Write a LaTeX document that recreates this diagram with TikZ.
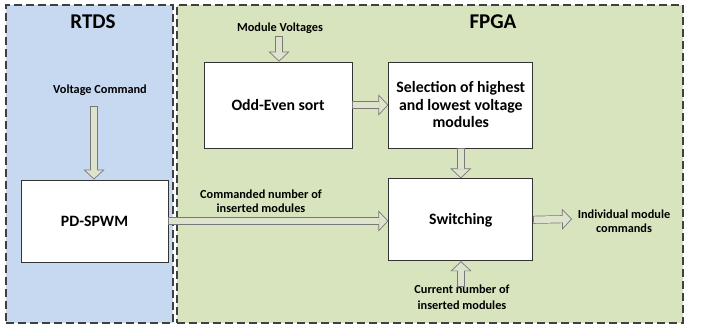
\documentclass[tikz,border=0pt]{standalone}
\usepackage{fontspec}
\setmainfont{Carlito}
\usetikzlibrary{arrows.meta, positioning}
\definecolor{rtdsblue}{RGB}{198,217,241}
\definecolor{fpgagreen}{RGB}{215,228,189}
\definecolor{arrfill}{RGB}{222,227,205}
\definecolor{arrline}{RGB}{120,120,120}
\definecolor{panelline}{RGB}{64,64,64}

\begin{document}
\begin{tikzpicture}[
  x=1pt, y=-1pt,
  panel/.style={rectangle, draw=panelline, line width=1.8pt, dash pattern=on 8pt off 4pt, inner sep=0pt},
  title/.style={font=\fontsize{21}{24}\selectfont\bfseries},
  box/.style={rectangle, draw=black!80, fill=white, line width=0.8pt, align=center, font=\fontsize{15.8}{17.5}\selectfont\bfseries, inner sep=0pt},
  lbl/.style={align=center, font=\fontsize{12.3}{13.5}\selectfont\bfseries, inner sep=0pt},
  fatarr/.style={draw=arrline, line width=8pt, -{Triangle[length=10pt, width=21pt, line width=0.7pt, fill=arrfill]},
    postaction={draw=arrfill, line width=6.6pt, -, shorten >=9pt, shorten <=0.7pt}}
]
  \useasboundingbox (0,0) rectangle (702,326);

  % the two platforms
  \node[panel, fill=rtdsblue, minimum width=167pt, minimum height=318pt] (rtds) at (89.5,164) {};
  \node[panel, fill=fpgagreen, minimum width=506pt, minimum height=318pt] (fpga) at (430,164) {};
  \node[title] (rtdstitle) at (93,22) {RTDS};
  \node[title] (fpgatitle) at (493,22) {FPGA};

  % blocks
  \node[box, minimum width=147pt, minimum height=82pt] (pdspwm) at (94.5,221) {PD-SPWM};
  \node[box, minimum width=148pt, minimum height=86pt] (oddeven) at (278,105) {Odd-Even sort};
  \node[box, minimum width=144pt, minimum height=86pt, right=36pt of oddeven] (select) {Selection of highest\\and lowest voltage\\modules};
  \node[box, minimum width=144pt, minimum height=82pt, below=30pt of select] (switching) {Switching};

  % signal labels
  \node[lbl] (vcmd) at (100,90) {Voltage Command};
  \node[lbl] (mvolt) at (280,28) {Module Voltages};
  \node[lbl] (cmdnum) at (261,201) {Commanded number of\\inserted modules};
  \node[lbl] (indiv) at (624,221) {Individual module\\commands};
  \node[lbl, font=\fontsize{12.3}{16.5}\selectfont\bfseries] (curnum) at (462,297) {Current number of\\inserted modules};

  \coordinate (vin) at (94,106);
  \coordinate (mvin) at (279,36);
  \coordinate (outend) at (572,219);
  \coordinate (curin) at (461,287);

  \draw[fatarr] (vin) -- (vin |- pdspwm.north);
  \draw[fatarr] (mvin) -- (mvin |- oddeven.north);
  \draw[fatarr] (oddeven.east) -- (select.west);
  \draw[fatarr] (select.south) -- (switching.north);
  \draw[fatarr] (pdspwm.east) -- (pdspwm.east -| switching.west);
  \draw[fatarr] (switching.east) -- (outend);
  \draw[fatarr] (curin) -- (curin |- switching.south);

\end{tikzpicture}
\end{document}
